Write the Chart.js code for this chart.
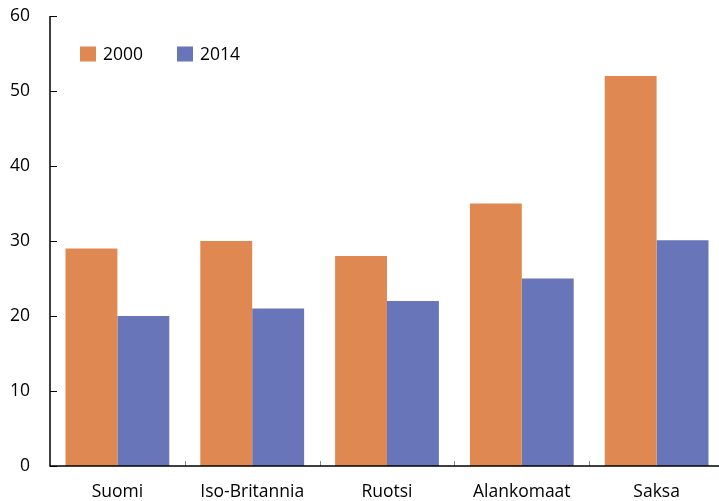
<!DOCTYPE html>
<html>
<head>
<meta charset="utf-8">
<script src="https://cdn.jsdelivr.net/npm/chart.js@4/dist/chart.umd.min.js"></script>
<style>
  html, body { margin: 0; padding: 0; background: #fff; overflow: hidden; }
  #wrap { width: 740px; height: 501px; position: relative; }
</style>
</head>
<body>
<div id="wrap"><canvas id="c"></canvas></div>
<script>
const categories = ['Suomi', 'Iso-Britannia', 'Ruotsi', 'Alankomaat', 'Saksa'];
const seriesNames = ['2000', '2014'];
const values2000 = [29, 30, 28, 35, 52];
const values2014 = [20, 21, 22, 25, 30.1];
const yTicks = [0, 10, 20, 30, 40, 50, 60];

const colors = ['#DF8851', '#6875B8'];
const FONT = { family: 'Open Sans', size: 17.5 };

const innerTicks = {
  id: 'innerTicks',
  afterDraw(chart) {
    const ctx = chart.ctx;
    const x = chart.scales.x, y = chart.scales.y;
    const area = chart.chartArea;
    ctx.save();
    ctx.strokeStyle = '#000';
    ctx.lineWidth = 1;
    yTicks.forEach(v => {
      const py = Math.round(y.getPixelForValue(v)) + 0.5;
      ctx.beginPath();
      ctx.moveTo(area.left, py);
      ctx.lineTo(area.left + 7, py);
      ctx.stroke();
    });
    ctx.strokeStyle = '#888';
    for (let i = 1; i < categories.length; i++) {
      const px = Math.round((x.getPixelForTick(i - 1) + x.getPixelForTick(i)) / 2) + 0.5;
      ctx.beginPath();
      ctx.moveTo(px, area.bottom);
      ctx.lineTo(px, area.bottom - 5);
      ctx.stroke();
    }
    ctx.strokeStyle = '#000';
    ctx.lineWidth = 1.5;
    ctx.beginPath();
    ctx.moveTo(area.left, area.top);
    ctx.lineTo(area.left, area.bottom);
    ctx.lineTo(chart.width, area.bottom);
    ctx.stroke();
    ctx.restore();
  }
};

const innerLegend = {
  id: 'innerLegend',
  afterDraw(chart) {
    const ctx = chart.ctx;
    const x0 = chart.chartArea.left + 30;
    const cy = chart.chartArea.top + 38;
    ctx.save();
    ctx.font = FONT.size + 'px ' + FONT.family;
    ctx.textBaseline = 'middle';
    ctx.textAlign = 'left';
    let px = x0;
    chart.data.datasets.forEach((ds, i) => {
      ctx.fillStyle = ds.backgroundColor;
      ctx.fillRect(px, cy - 7.5, 16, 15);
      ctx.fillStyle = '#000';
      ctx.fillText(ds.label, px + 23, cy + 1);
      px += 97;
    });
    ctx.restore();
  }
};

new Chart(document.getElementById('c'), {
  type: 'bar',
  data: {
    labels: categories,
    datasets: [
      { label: seriesNames[0], data: values2000, backgroundColor: colors[0] },
      { label: seriesNames[1], data: values2014, backgroundColor: colors[1] }
    ]
  },
  options: {
    responsive: true,
    maintainAspectRatio: false,
    animation: false,
    layout: { padding: { top: 16, right: 16, left: 0, bottom: 0 } },
    datasets: { bar: { categoryPercentage: 0.77, barPercentage: 1.0 } },
    plugins: { legend: { display: false }, tooltip: { enabled: false } },
    scales: {
      x: {
        offset: true,
        grid: { display: false, drawTicks: false },
        border: { display: false },
        ticks: { color: '#000', font: FONT, padding: 16 },
        afterFit(s) { s.height = 35; s.paddingLeft = 0; s.paddingRight = 0; }
      },
      y: {
        min: 0, max: 60,
        grid: { display: false, drawTicks: false },
        border: { display: false },
        ticks: { color: '#000', font: FONT, padding: 20, stepSize: 10 },
        afterFit(s) { s.width = 50; s.paddingTop = 0; s.paddingBottom = 0; }
      }
    }
  },
  plugins: [innerTicks, innerLegend]
});
</script>
</body>
</html>
